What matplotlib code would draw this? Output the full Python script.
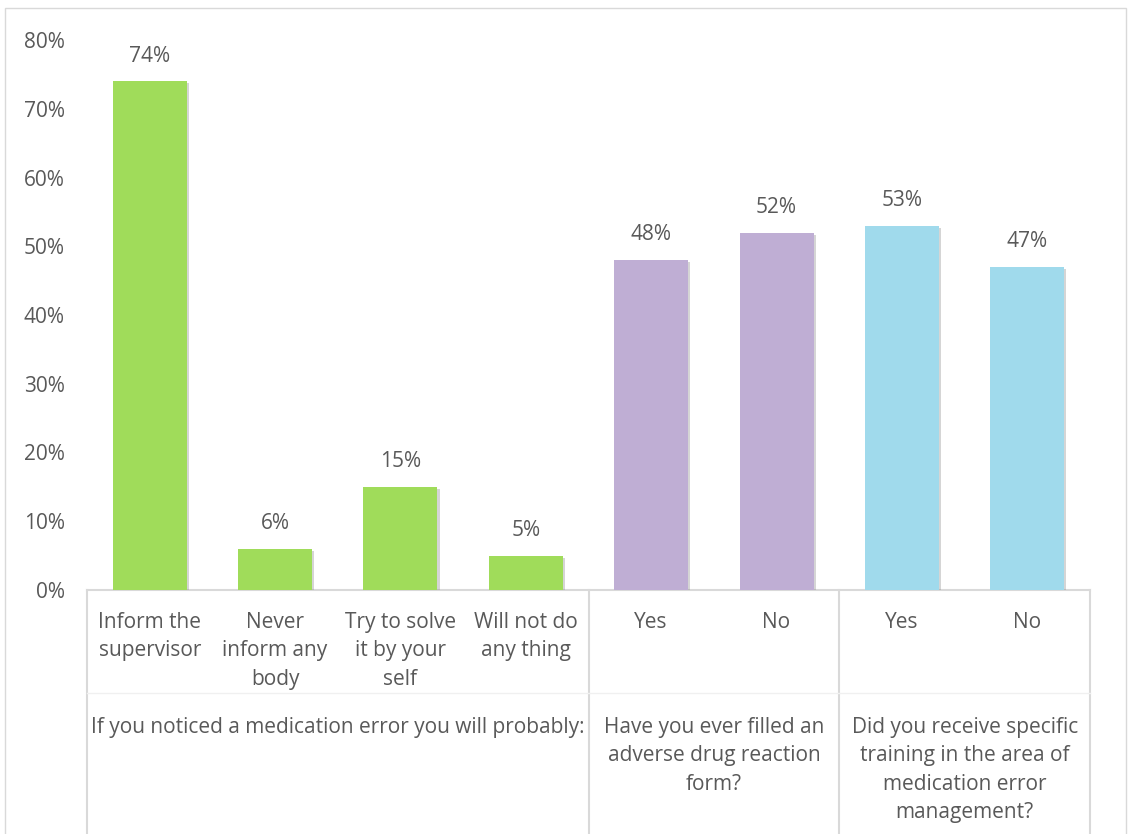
import matplotlib
matplotlib.use("Agg")
import matplotlib.pyplot as plt
import matplotlib.patheffects as pe
from matplotlib.transforms import blended_transform_factory
from matplotlib.patches import Rectangle

categories = ["Inform the\nsupervisor", "Never\ninform any\nbody", "Try to solve\nit by your\nself",
              "Will not do\nany thing", "Yes", "No", "Yes", "No"]
values = [74, 6, 15, 5, 48, 52, 53, 47]
groups = ["If you noticed a medication error you will probably:",
          "Have you ever filled an\nadverse drug reaction\nform?",
          "Did you receive specific\ntraining in the area of\nmedication error\nmanagement?"]
group_sizes = [4, 2, 2]
group_colors = ["#A0DC5A", "#BFAED4", "#A0DAEC"]
yticks = [0, 10, 20, 30, 40, 50, 60, 70, 80]

TXT = "#595959"
LINE = "#D9D9D9"
FS = 15
LS = 1.46
W, H = 1129, 834
plt.rcParams['font.family'] = ['Open Sans', 'DejaVu Sans']

fig = plt.figure(figsize=(W / 100, H / 100), dpi=100)
fig.patches.append(Rectangle((5 / W, -0.1), (1126 - 5) / W, 1.1 - 8 / H,
                             transform=fig.transFigure, fill=False, ec=LINE, lw=1))
ax = fig.add_axes([87 / W, 1 - 590 / H, (1090 - 87) / W, 550 / H])

colors = []
for c, n in zip(group_colors, group_sizes):
    colors += [c] * n
x = list(range(len(values)))
bars = ax.bar(x, values, width=0.59, color=colors, zorder=3)
for b in bars:
    b.set_path_effects([pe.SimplePatchShadow(offset=(1.5, -1.5), shadow_rgbFace='#888888', alpha=0.35),
                        pe.Normal()])

for xi, v in zip(x, values):
    ax.annotate(f"{v}%", xy=(xi, v), xytext=(0, 25 * 0.72), textcoords="offset points",
                ha="center", va="center", fontsize=FS, color=TXT)

ax.set_xlim(-0.5, len(values) - 0.5)
ax.set_ylim(0, 80)
ax.set_yticks(yticks)
ax.set_yticklabels([f"{t}%" for t in yticks], fontsize=FS, color=TXT)
ax.tick_params(axis="y", length=0, pad=16)
ax.set_xticks([])
for s in ["top", "right", "left"]:
    ax.spines[s].set_visible(False)
ax.spines["bottom"].set_color(LINE)
ax.spines["bottom"].set_linewidth(1.5)

tr = blended_transform_factory(ax.transData, ax.transAxes)
px = 1 / 550.0
# category labels
for xi, lab in zip(x, categories):
    ax.text(xi, -22 * px, lab, transform=tr, ha="center", va="top", fontsize=FS,
            color=TXT, linespacing=LS)
# group labels and boundaries
start = 0
bounds = [-0.5]
for g, n in zip(groups, group_sizes):
    center = start + (n - 1) / 2
    ax.text(center, -127 * px, g, transform=tr, ha="center", va="top", fontsize=FS,
            color=TXT, linespacing=LS)
    start += n
    bounds.append(start - 0.5)
for bnd in bounds:
    ax.plot([bnd, bnd], [0, -0.6], transform=tr, color=LINE, lw=1.5, clip_on=False)
ax.plot([-0.5, len(values) - 0.5], [-103 * px, -103 * px], transform=tr, color="#F0F0F0",
        lw=1, clip_on=False)

fig.savefig("out.png", dpi=100)
